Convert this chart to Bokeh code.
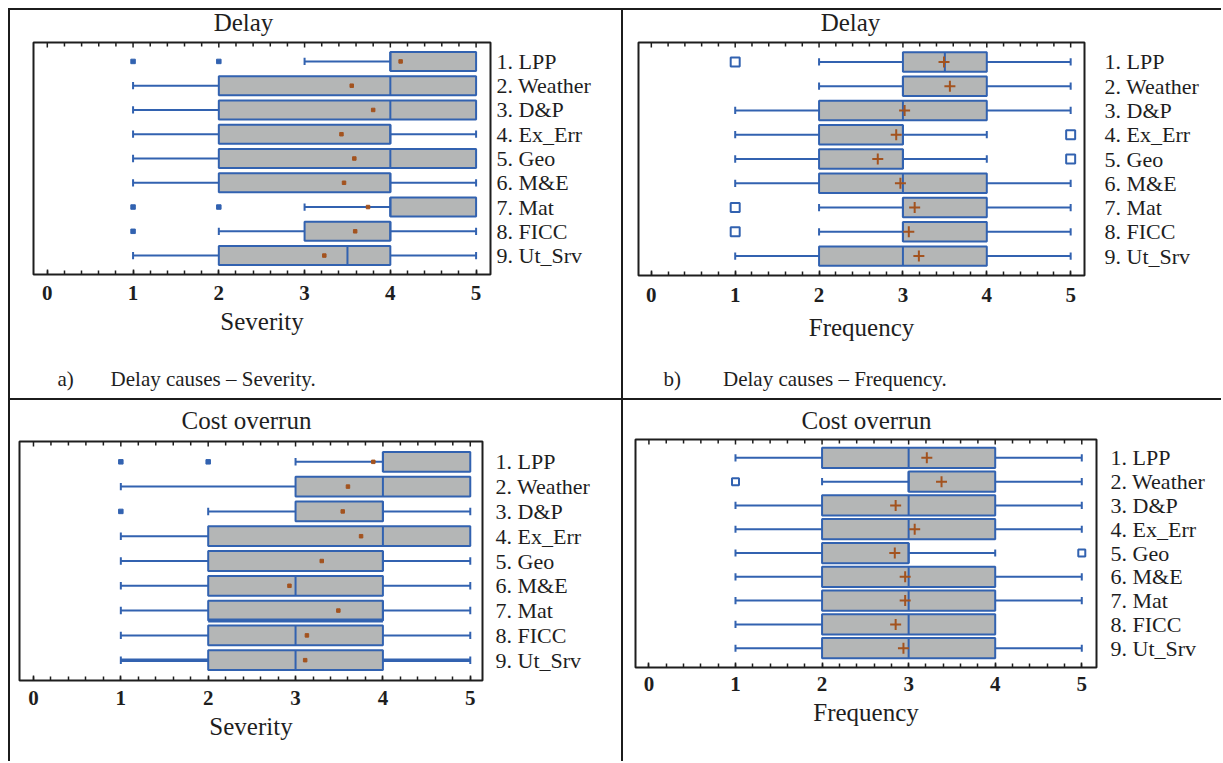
from bokeh.plotting import figure
from bokeh.models import Range1d, SingleIntervalTicker, FixedTicker, Div, ColumnDataSource
from bokeh.layouts import row, column
from bokeh.core.properties import value
from bokeh.embed import file_html
from bokeh.resources import INLINE
import math

categories = ["1. LPP", "2. Weather", "3. D&P", "4. Ex_Err", "5. Geo",
              "6. M&E", "7. Mat", "8. FICC", "9. Ut_Srv"]
x_ticks = [0, 1, 2, 3, 4, 5]

# a) Delay causes - Severity
a_whisker_low = [3, 1, 1, 1, 1, 1, 3, 2, 1]
a_q1 = [4, 2, 2, 2, 2, 2, 4, 3, 2]
a_median = [4, 4, 4, 4, 4, 4, 4, 4, 3.5]
a_q3 = [5, 5, 5, 4, 5, 4, 5, 4, 4]
a_whisker_high = [5, 5, 5, 5, 5, 5, 5, 5, 5]
a_mean = [4.12, 3.55, 3.80, 3.43, 3.58, 3.46, 3.74, 3.59, 3.23]
a_outlier_cat = ["1. LPP", "1. LPP", "7. Mat", "7. Mat", "8. FICC"]
a_outlier_val = [1, 2, 1, 2, 1]

# b) Delay causes - Frequency
b_whisker_low = [2, 2, 1, 1, 1, 1, 2, 2, 1]
b_q1 = [3, 3, 2, 2, 2, 2, 3, 3, 2]
b_median = [3.5, 3, 3, 3, 3, 3, 3, 3, 3]
b_q3 = [4, 4, 4, 3, 3, 4, 4, 4, 4]
b_whisker_high = [5, 5, 5, 4, 4, 5, 5, 5, 5]
b_mean = [3.49, 3.56, 3.02, 2.92, 2.70, 2.97, 3.14, 3.07, 3.19]
b_outlier_cat = ["1. LPP", "4. Ex_Err", "5. Geo", "7. Mat", "8. FICC"]
b_outlier_val = [1, 5, 5, 1, 1]

# c) Cost overrun - Severity
c_whisker_low = [3, 1, 2, 1, 1, 1, 1, 1, 1]
c_q1 = [4, 3, 3, 2, 2, 2, 2, 2, 2]
c_median = [4, 4, 4, 4, 4, 3, 4, 3, 3]
c_q3 = [5, 5, 4, 5, 4, 4, 4, 4, 4]
c_whisker_high = [5, 5, 5, 5, 5, 5, 5, 5, 5]
c_mean = [3.89, 3.60, 3.54, 3.75, 3.30, 2.93, 3.49, 3.13, 3.11]
c_outlier_cat = ["1. LPP", "1. LPP", "3. D&P"]
c_outlier_val = [1, 2, 1]
c_thick_whisker_rows = ["9. Ut_Srv"]
c_thick_box_bottom_rows = ["7. Mat"]

# d) Cost overrun - Frequency
d_whisker_low = [1, 2, 1, 1, 1, 1, 1, 1, 1]
d_q1 = [2, 3, 2, 2, 2, 2, 2, 2, 2]
d_median = [3, 3, 3, 3, 3, 3, 3, 3, 3]
d_q3 = [4, 4, 4, 4, 3, 4, 4, 4, 4]
d_whisker_high = [5, 5, 5, 5, 4, 5, 5, 4, 5]
d_mean = [3.21, 3.38, 2.85, 3.07, 2.84, 2.96, 2.96, 2.85, 2.94]
d_outlier_cat = ["2. Weather", "5. Geo"]
d_outlier_val = [1, 5]

BOX_FILL = "#b4b6b6"
BLUE = "#3262b0"
BROWN = "#a3531f"
INK = "#1e1e1e"
SERIF = "Liberation Serif"


def text_strip(mbl, fw, mbr, height, text, x, y, size, align):
    """A strip of the table cell (same frame columns as the plot) holding one line of text;
    x is measured in pixels from the plot frame's left edge."""
    t = figure(frame_width=fw, frame_height=height, min_border_left=mbl, min_border_right=mbr,
               min_border_top=0, min_border_bottom=0,
               x_range=Range1d(0, fw), y_range=Range1d(0, height),
               output_backend="svg", toolbar_location=None, tools="")
    t.axis.visible = False
    t.grid.visible = False
    t.outline_line_color = None
    t.text(x=[x], y=[y], text=[text], text_font=value(SERIF), text_font_size=value(size),
           text_color=INK, text_align=align, text_baseline="middle")
    return t


def panel(xlabel, data, geom, style, thick_w=(), thick_b=()):
    wlo, q1, med, q3, whi, mean, ocat, oval = data
    (mbl, fw, mbr, mbt, fh, mbb, xs, xe, ys, ye, box_h, lab_std, tick_std, axlab_std) = geom
    pos = list(range(1, len(categories) + 1))
    p = figure(frame_width=fw, frame_height=fh,
               min_border_left=mbl, min_border_right=mbr,
               min_border_top=mbt, min_border_bottom=mbb,
               x_range=Range1d(xs, xe), y_range=Range1d(ys, ye),
               y_axis_location="right", output_backend="svg",
               toolbar_location=None, tools="")
    p.grid.visible = False
    p.outline_line_color = INK
    p.outline_line_width = 2
    p.background_fill_color = "white"
    p.border_fill_color = "white"

    ax = p.below[0]
    ay = p.right[0]

    ax.ticker = SingleIntervalTicker(interval=1, num_minor_ticks=5)
    ax.axis_line_color = None
    ax.major_tick_in = 5
    ax.major_tick_out = 0
    ax.minor_tick_in = 4
    ax.minor_tick_out = 0
    ax.major_tick_line_color = INK
    ax.minor_tick_line_color = INK
    ax.major_tick_line_width = 1.5
    ax.minor_tick_line_width = 1.5
    ax.major_label_text_font = SERIF
    ax.major_label_text_font_size = "21px"
    ax.major_label_text_font_style = "bold"
    ax.major_label_text_color = INK
    ax.major_label_standoff = tick_std
    ax.axis_label = xlabel
    ax.axis_label_text_font = SERIF
    ax.axis_label_text_font_size = "25px"
    ax.axis_label_text_font_style = "normal"
    ax.axis_label_text_color = INK
    ax.axis_label_standoff = axlab_std

    # top edge ticks (inward), short vertical dashes clipped by the frame
    major = [t for t in x_ticks]
    minor = [x_ticks[0] + k * 0.2 for k in range(int((x_ticks[-1] - x_ticks[0]) / 0.2) + 1)]
    minor = [m for m in minor if all(abs(m - t) > 1e-6 for t in major)]
    p.scatter(x=major, y=[ye] * len(major), marker="dash", angle=math.pi / 2, size=10,
              line_color=INK, line_width=1.5)
    p.scatter(x=minor, y=[ye] * len(minor), marker="dash", angle=math.pi / 2, size=8,
              line_color=INK, line_width=1.5)

    # category labels on the right
    ay.ticker = FixedTicker(ticks=pos)
    ay.major_label_overrides = {k: v for k, v in zip(pos, categories)}
    ay.axis_line_color = None
    ay.major_tick_line_color = None
    ay.minor_tick_line_color = None
    ay.major_tick_out = 0
    ay.major_tick_in = 0
    ay.major_label_standoff = lab_std
    ay.major_label_text_font = SERIF
    ay.major_label_text_font_size = "22px"
    ay.major_label_text_color = INK

    wwidth = [3.5 if c in thick_w else 2 for c in categories]
    src = ColumnDataSource(dict(y=pos, wlo=wlo, q1=q1, med=med, q3=q3, whi=whi, mean=mean,
                                ww=wwidth,
                                lo=[v - box_h / 2 for v in pos], hi=[v + box_h / 2 for v in pos]))
    p.segment(x0="wlo", x1="q1", y0="y", y1="y", source=src, line_color=BLUE, line_width="ww")
    p.segment(x0="q3", x1="whi", y0="y", y1="y", source=src, line_color=BLUE, line_width="ww")
    lo_idx = [i for i in range(len(pos)) if wlo[i] < q1[i]]
    hi_idx = [i for i in range(len(pos)) if whi[i] > q3[i]]
    p.segment(x0=[wlo[i] for i in lo_idx], x1=[wlo[i] for i in lo_idx],
              y0=[pos[i] - 0.15 for i in lo_idx], y1=[pos[i] + 0.15 for i in lo_idx],
              line_color=BLUE, line_width=2)
    p.segment(x0=[whi[i] for i in hi_idx], x1=[whi[i] for i in hi_idx],
              y0=[pos[i] - 0.15 for i in hi_idx], y1=[pos[i] + 0.15 for i in hi_idx],
              line_color=BLUE, line_width=2)
    p.hbar(y="y", left="q1", right="q3", height=box_h, source=src,
           fill_color=BOX_FILL, line_color=BLUE, line_width=2)
    p.segment(x0="med", x1="med", y0="lo", y1="hi", source=src, line_color=BLUE, line_width=2)
    tb = [categories.index(c) for c in thick_b]
    if tb:
        p.segment(x0=[q1[i] for i in tb], x1=[q3[i] for i in tb],
                  y0=[pos[i] + box_h / 2 for i in tb], y1=[pos[i] + box_h / 2 for i in tb],
                  line_color=BLUE, line_width=4)

    oy = [pos[categories.index(c)] for c in ocat]
    if style == "dot":
        p.scatter(x="mean", y="y", source=src, marker="square", size=3.5,
                  fill_color=BROWN, line_color=BROWN)
        p.scatter(x=oval, y=oy, marker="square", size=4.5, fill_color=BLUE, line_color=BLUE)
    else:
        p.scatter(x="mean", y="y", source=src, marker="cross", size=11,
                  line_color=BROWN, line_width=2)
        osize = 9 if style == "cross_big" else 7
        p.scatter(x=oval, y=oy, marker="square", size=osize, fill_color="white",
                  line_color=BLUE, line_width=2)
    return p


NB = "\u00a0"
W_LEFT, W_RIGHT = 611, 598

# cell a  (frame columns: 23 | 457 | 131)
ta = text_strip(23, 457, 131, 30, "Delay", 210, 18, "25px", "center")
pa = panel("Severity",
           (a_whisker_low, a_q1, a_median, a_q3, a_whisker_high, a_mean, a_outlier_cat, a_outlier_val),
           (23, 457, 131, 2, 232, 84, -0.161, 5.168, 9.78, 0.22, 0.78, 6, 11, 5), "dot")
ca = text_strip(23, 457, 131, 40, "a)" + NB * 7 + "Delay causes \u2013 Severity.", 24, 20, "21px", "left")

# cell b  (frame columns: 15 | 446 | 137)
tb_ = text_strip(15, 446, 137, 30, "Delay", 212, 18, "25px", "center")
pb = panel("Frequency",
           (b_whisker_low, b_q1, b_median, b_q3, b_whisker_high, b_mean, b_outlier_cat, b_outlier_val),
           (15, 446, 137, 2, 233, 83, -0.153, 5.165, 9.8, 0.2, 0.8, 20, 12, 9), "cross_big")
cb = text_strip(15, 446, 137, 40, "b)" + NB * 8 + "Delay causes \u2013 Frequency.", 25, 20, "21px", "left")

# cell c  (frame columns: 9 | 463 | 139)
tc = text_strip(9, 463, 139, 39, "Cost overrun", 227, 19, "25px", "center")
pc = panel("Severity",
           (c_whisker_low, c_q1, c_median, c_q3, c_whisker_high, c_mean, c_outlier_cat, c_outlier_val),
           (9, 463, 139, 2, 239, 81, -0.16, 5.14, 9.82, 0.18, 0.8, 13, 10, 5),
           "dot", c_thick_whisker_rows, c_thick_box_bottom_rows)

# cell d  (frame columns: 12 | 461 | 125)
td = text_strip(12, 461, 125, 37, "Cost overrun", 231, 17, "25px", "center")
pd_ = panel("Frequency",
            (d_whisker_low, d_q1, d_median, d_q3, d_whisker_high, d_mean, d_outlier_cat, d_outlier_val),
            (12, 461, 125, 2, 228, 94, -0.155, 5.17, 9.81, 0.23, 0.85, 14, 9, 5), "cross_small")

LINE = {"background-color": "#1c1c1c"}
TOTAL_W = 2 + W_LEFT + 2 + W_RIGHT


def hline():
    return Div(text="", width=TOTAL_W, height=2, styles=LINE, margin=0)


def vline(h):
    return Div(text="", width=2, height=h, styles=LINE, margin=0)


layout = column(
    hline(),
    row(vline(388), column(ta, pa, ca), vline(388), column(tb_, pb, cb)),
    hline(),
    row(vline(361), column(tc, pc), vline(361), column(td, pd_)),
    margin=(8, 0, 0, 8))

open("out.html", "w").write(file_html(layout, INLINE))
